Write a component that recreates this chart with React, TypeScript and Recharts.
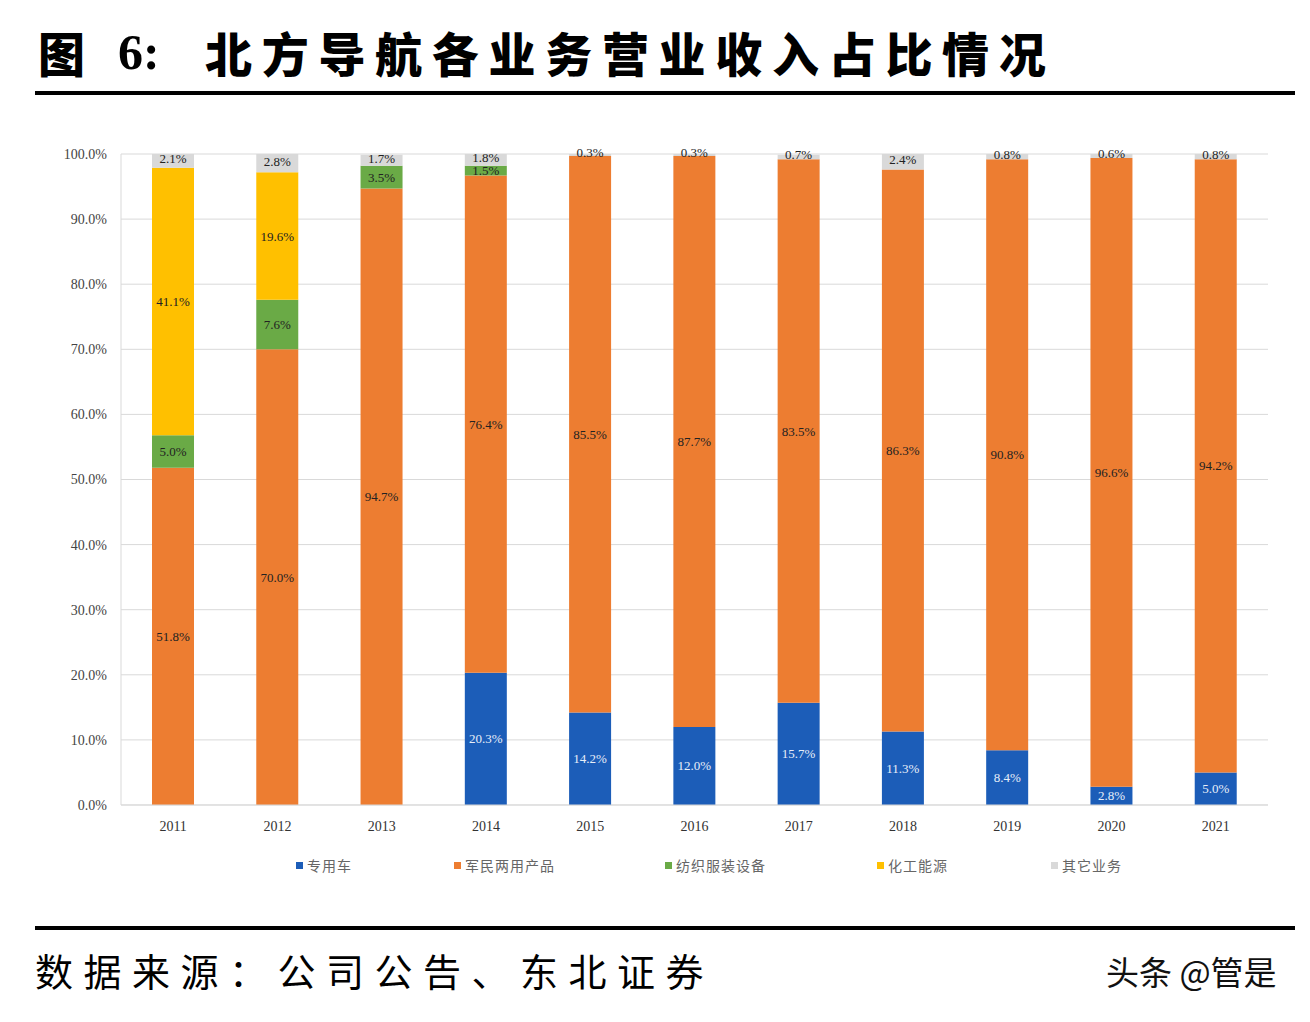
import React from 'react';
import { BarChart, Bar, XAxis, YAxis, CartesianGrid, LabelList } from 'recharts';

const years = ['2011', '2012', '2013', '2014', '2015', '2016', '2017', '2018', '2019', '2020', '2021'];
const specialVehicle = [0, 0, 0, 20.3, 14.2, 12.0, 15.7, 11.3, 8.4, 2.8, 5.0];
const dualUse = [51.8, 70.0, 94.7, 76.4, 85.5, 87.7, 83.5, 86.3, 90.8, 96.6, 94.2];
const textile = [5.0, 7.6, 3.5, 1.5, 0, 0, 0, 0, 0, 0, 0];
const chemical = [41.1, 19.6, 0, 0, 0, 0, 0, 0, 0, 0, 0];
const other = [2.1, 2.8, 1.7, 1.8, 0.3, 0.3, 0.7, 2.4, 0.8, 0.6, 0.8];
const yTicks = [0, 10, 20, 30, 40, 50, 60, 70, 80, 90, 100];

const seriesNames = ['专用车', '军民两用产品', '纺织服装设备', '化工能源', '其它业务'];
const seriesKeys = ['sv', 'du', 'tx', 'ch', 'ot'];
const seriesColors = ['#1c5db8', '#ed7d31', '#6aaa46', '#ffc000', '#d9d9d9'];
const labelColors = ['#e8eef8', '#222', '#222', '#222', '#222'];
const legendLeft = [296, 454, 665, 877, 1051];

const seriesValues = [specialVehicle, dualUse, textile, chemical, other];
const data = years.map((y, i) => {
  const row: any = { year: y };
  seriesKeys.forEach((k, j) => { row[k] = seriesValues[j][i]; });
  return row;
});

const serif = '"Liberation Serif", "Times New Roman", serif';
const cjk = '"Noto Sans CJK SC", sans-serif';

const makeLabel = (color: string, isTop: boolean) => (props: any) => {
  const { x, y, width, height, value } = props;
  if (!value) return null;
  const cy = isTop ? y + height / 2 - 2 : y + height / 2;
  return (
    <text x={x + width / 2} y={cy} textAnchor="middle" dominantBaseline="central"
      fill={color} fontFamily={serif} fontSize={13}>
      {Number(value).toFixed(1) + '%'}
    </text>
  );
};

export default function App() {
  return (
    <div style={{ position: 'absolute', left: 0, top: 0, width: 1310, height: 1022, background: '#fff', overflow: 'hidden' }}>
      <div style={{ position: 'absolute', left: 38, top: 22, fontFamily: cjk, fontWeight: 900, fontSize: 47, lineHeight: '60px', color: '#000' }}>图</div>
      <div style={{ position: 'absolute', left: 118, top: 22, fontFamily: serif, fontWeight: 700, fontSize: 50, lineHeight: '60px', color: '#000' }}>6:</div>
      <div style={{ position: 'absolute', left: 205, top: 22, fontFamily: cjk, fontWeight: 900, fontSize: 47, lineHeight: '60px', letterSpacing: 9.7, color: '#000', whiteSpace: 'nowrap' }}>北方导航各业务营业收入占比情况</div>
      <div style={{ position: 'absolute', left: 35, top: 91, width: 1260, height: 4, background: '#000' }} />

      <div style={{ position: 'absolute', left: 0, top: 0 }}>
        <BarChart width={1310} height={900} data={data} margin={{ top: 154, right: 42, left: 61, bottom: 65 }} barSize={42}>
          <CartesianGrid vertical={false} stroke="#d9d9d9" />
          <XAxis dataKey="year" tickLine={false} tickSize={0} tickMargin={16} axisLine={{ stroke: '#d9d9d9' }}
            tick={{ fontFamily: serif, fontSize: 14, fill: '#333' }} height={30} />
          <YAxis domain={[0, 100]} ticks={yTicks} width={60} tickLine={false} tickSize={0} tickMargin={14}
            axisLine={{ stroke: '#d9d9d9' }} tickFormatter={(v: number) => v.toFixed(1) + '%'}
            tick={{ fontFamily: serif, fontSize: 14, fill: '#444' }} />
          <YAxis yAxisId="r" orientation="right" domain={[0, 100]} width={0} tick={false} tickLine={false}
            axisLine={{ stroke: '#d9d9d9' }} />
          {seriesKeys.map((k, j) => (
            <Bar key={k} dataKey={k} name={seriesNames[j]} stackId="a" fill={seriesColors[j]} isAnimationActive={false}>
              <LabelList dataKey={k} content={makeLabel(labelColors[j], j === seriesKeys.length - 1)} />
            </Bar>
          ))}
        </BarChart>
      </div>

      {seriesNames.map((n, j) => (
        <div key={n} style={{ position: 'absolute', left: legendLeft[j], top: 855, height: 20, display: 'flex', alignItems: 'center', whiteSpace: 'nowrap' }}>
          <span style={{ display: 'inline-block', width: 7, height: 7, background: seriesColors[j], marginRight: 4 }} />
          <span style={{ fontFamily: cjk, fontSize: 14, color: '#666', letterSpacing: 1 }}>{n}</span>
        </div>
      ))}

      <div style={{ position: 'absolute', left: 35, top: 926, width: 1260, height: 4, background: '#000' }} />
      <div style={{ position: 'absolute', left: 35, top: 942, fontFamily: cjk, fontSize: 38, lineHeight: '56px', letterSpacing: 10.5, color: '#000', whiteSpace: 'nowrap' }}>数据来源：公司公告、东北证券</div>
      <div style={{ position: 'absolute', left: 1106, top: 947, fontFamily: cjk, fontSize: 33, lineHeight: '48px', color: '#111', whiteSpace: 'nowrap' }}>头条 @管是</div>
    </div>
  );
}
